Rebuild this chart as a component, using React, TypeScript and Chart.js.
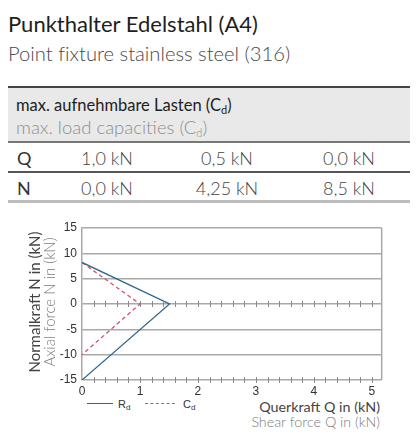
import React, { useEffect, useRef } from "react";
import { Chart, registerables } from "chart.js";
Chart.register(...registerables);

// ---- data ----
const rdQ = [0, 1.51, 0];
const rdN = [8.2, 0, -15];
const cdQ = [0, 1.0, 0];
const cdN = [8.2, 0, -10];
const yTickValues = [-15, -10, -5, 0, 5, 10, 15];
const xMajorTicks = [0, 1, 2, 3, 4, 5];
const xMinorPerMajor = 5;
const rowLabels = ["Q", "N"];
const qValues = ["1,0 kN", "0,5 kN", "0,0 kN"];
const nValues = ["0,0 kN", "4,25 kN", "8,5 kN"];

const FONT = "Lato, 'Open Sans', sans-serif";
const TICKFONT = "'Liberation Sans', Arial, sans-serif";
const BLUE = "#2f6690";
const RED = "#d2506e";
const GRID = "#a9a9a9";

const minorTicks: number[] = [];
for (let i = 0; i < xMajorTicks.length - 1; i++) {
  for (let k = 0; k < xMinorPerMajor; k++) {
    minorTicks.push(xMajorTicks[i] + (k * (xMajorTicks[i + 1] - xMajorTicks[i])) / xMinorPerMajor);
  }
}
minorTicks.push(xMajorTicks[xMajorTicks.length - 1]);

const framePlugin = {
  id: "frame",
  afterDraw(chart: any) {
    const { ctx, chartArea, scales } = chart;
    const x = scales.x;
    const y = scales.y;
    ctx.save();
    ctx.strokeStyle = GRID;
    ctx.lineWidth = 1.5;
    ctx.beginPath();
    ctx.moveTo(chartArea.right, chartArea.top);
    ctx.lineTo(chartArea.right, chartArea.bottom);
    ctx.stroke();
    ctx.strokeStyle = "#8a8a8a";
    ctx.lineWidth = 1;
    for (const lv of [0, -15]) {
      const py = y.getPixelForValue(lv);
      for (const t of minorTicks) {
        if (t === 0) continue;
        const px = Math.round(x.getPixelForValue(t)) + 0.5;
        ctx.beginPath();
        ctx.moveTo(px, py - 3);
        ctx.lineTo(px, py + 3);
        ctx.stroke();
      }
    }
    ctx.restore();
  },
};

function ChartBox() {
  const ref = useRef<HTMLCanvasElement | null>(null);
  useEffect(() => {
    if (!ref.current) return;
    const chart = new Chart(ref.current, {
      type: "scatter",
      data: {
        datasets: [
          {
            label: "Rd",
            data: rdQ.map((q, i) => ({ x: q, y: rdN[i] })),
            showLine: true,
            borderColor: BLUE,
            borderWidth: 1.3,
            pointRadius: 0,
          },
          {
            label: "Cd",
            data: cdQ.map((q, i) => ({ x: q, y: cdN[i] })),
            showLine: true,
            borderColor: RED,
            borderWidth: 1.3,
            borderDash: [4, 3],
            pointRadius: 0,
          },
        ],
      },
      options: {
        animation: false,
        responsive: false,
        layout: { padding: { top: 13, right: 36.3, left: 0, bottom: 0 } },
        plugins: { legend: { display: false }, tooltip: { enabled: false } },
        scales: {
          x: {
            type: "linear",
            min: 0,
            max: 5.17,
            afterBuildTicks: (s: any) => {
              s.ticks = minorTicks.map((v) => ({ value: v }));
            },
            afterFit: (s: any) => {
              s.height = 17;
            },
            grid: { display: false, drawTicks: false, tickLength: 0 },
            border: { display: false },
            ticks: {
              autoSkip: false,
              maxRotation: 0,
              padding: 4,
              color: "#333",
              font: { family: TICKFONT, size: 12 },
              callback: (v: any) => (xMajorTicks.includes(Math.round(v * 1000) / 1000) ? String(Math.round(v)) : ""),
            },
          },
          y: {
            type: "linear",
            min: -15,
            max: 15,
            afterBuildTicks: (s: any) => {
              s.ticks = yTickValues.map((v) => ({ value: v }));
            },
            afterFit: (s: any) => {
              s.width = 82;
            },
            grid: { color: GRID, lineWidth: 1.5, drawTicks: false },
            border: { display: true, color: GRID, width: 1.5 },
            ticks: {
              padding: 5,
              color: "#333",
              font: { family: TICKFONT, size: 12 },
            },
          },
        },
      },
      plugins: [framePlugin],
    } as any);
    return () => chart.destroy();
  }, []);
  return (
    <canvas
      ref={ref}
      width={418}
      height={182}
      style={{ position: "absolute", left: 0, top: 215, width: 418, height: 182 }}
    />
  );
}

const abs = (o: any): React.CSSProperties => ({ position: "absolute", whiteSpace: "nowrap", ...o });

export default function App() {
  const colCenters = [107, 227, 349];
  const rows = [qValues, nValues];
  const rowTops = [149, 179];
  return (
    <div style={{ position: "absolute", left: 0, top: 0, width: 418, height: 442, background: "#fff", fontFamily: FONT, overflow: "hidden" }}>
      <div style={abs({ left: 8, top: 13, fontSize: 22, lineHeight: "22px", color: "#1e1e1e" })}>Punkthalter Edelstahl (A4)</div>
      <div style={abs({ left: 8, top: 42, fontSize: 20.2, lineHeight: "22px", color: "#4a4a4a", fontWeight: 300, fontVariantLigatures: "none" })}>Point fixture stainless steel (316)</div>

      {/* table */}
      <div style={abs({ left: 8, top: 86, width: 402, height: 2, background: "#444" })} />
      <div style={abs({ left: 8, top: 88, width: 402, height: 53, background: "#e9e9e9" })} />
      <div style={abs({ left: 8, top: 141, width: 402, height: 1.5, background: "#777" })} />
      <div style={abs({ left: 8, top: 171, width: 402, height: 1.5, background: "#555" })} />
      <div style={abs({ left: 8, top: 200, width: 402, height: 3, background: "#bdbdbd" })} />
      <div style={abs({ left: 16, top: 97, fontSize: 16.5, lineHeight: "17px", color: "#1e1e1e" })}>
        max. aufnehmbare Lasten (C<sub style={{ fontSize: 11, verticalAlign: -3 }}>d</sub>)
      </div>
      <div style={abs({ left: 16, top: 118, fontSize: 18.5, lineHeight: "18px", color: "#8e8e8e", fontWeight: 300 })}>
        max. load capacities (C<sub style={{ fontSize: 11, verticalAlign: -3 }}>d</sub>)
      </div>
      {rowLabels.map((lab, r) => (
        <React.Fragment key={lab}>
          <div style={abs({ left: 17, top: rowTops[r], fontSize: 18, lineHeight: "18px", color: "#333" })}>{lab}</div>
          {rows[r].map((v, c) => (
            <div key={c} style={abs({ left: colCenters[c] - 50, width: 100, textAlign: "center", top: rowTops[r], fontSize: 18, lineHeight: "18px", color: "#444", fontWeight: 300 })}>{v}</div>
          ))}
        </React.Fragment>
      ))}

      <ChartBox />

      {/* y title */}
      <div style={abs({ left: 34 - 80, top: 302 - 8, width: 160, textAlign: "center", fontSize: 15, lineHeight: "16px", color: "#444", transform: "rotate(-90deg)" })}>Normalkraft N in (kN)</div>
      <div style={abs({ left: 49 - 80, top: 302 - 8, width: 160, textAlign: "center", fontSize: 15, lineHeight: "16px", color: "#7a7a7a", fontWeight: 300, transform: "rotate(-90deg)" })}>Axial force N in (kN)</div>

      {/* legend */}
      <div style={abs({ left: 87, top: 403, width: 26, height: 0, borderTop: `1.3px solid ${BLUE}` })} />
      <div style={abs({ left: 118, top: 398, fontFamily: TICKFONT, fontSize: 11, lineHeight: "12px", color: "#333" })}>R<sub style={{ fontSize: 8, verticalAlign: -2 }}>d</sub></div>
      <div style={abs({ left: 145, top: 403, width: 30, height: 0, borderTop: `1.3px dashed ${RED}` })} />
      <div style={abs({ left: 183, top: 398, fontFamily: TICKFONT, fontSize: 11, lineHeight: "12px", color: "#333" })}>C<sub style={{ fontSize: 8, verticalAlign: -2 }}>d</sub></div>

      {/* x title */}
      <div style={abs({ right: 38, top: 399, fontSize: 14.3, lineHeight: "15px", color: "#444", textAlign: "right" })}>Querkraft Q in (kN)</div>
      <div style={abs({ right: 38, top: 414, fontSize: 14.3, lineHeight: "15px", color: "#7a7a7a", fontWeight: 300, textAlign: "right" })}>Shear force Q in (kN)</div>
    </div>
  );
}
